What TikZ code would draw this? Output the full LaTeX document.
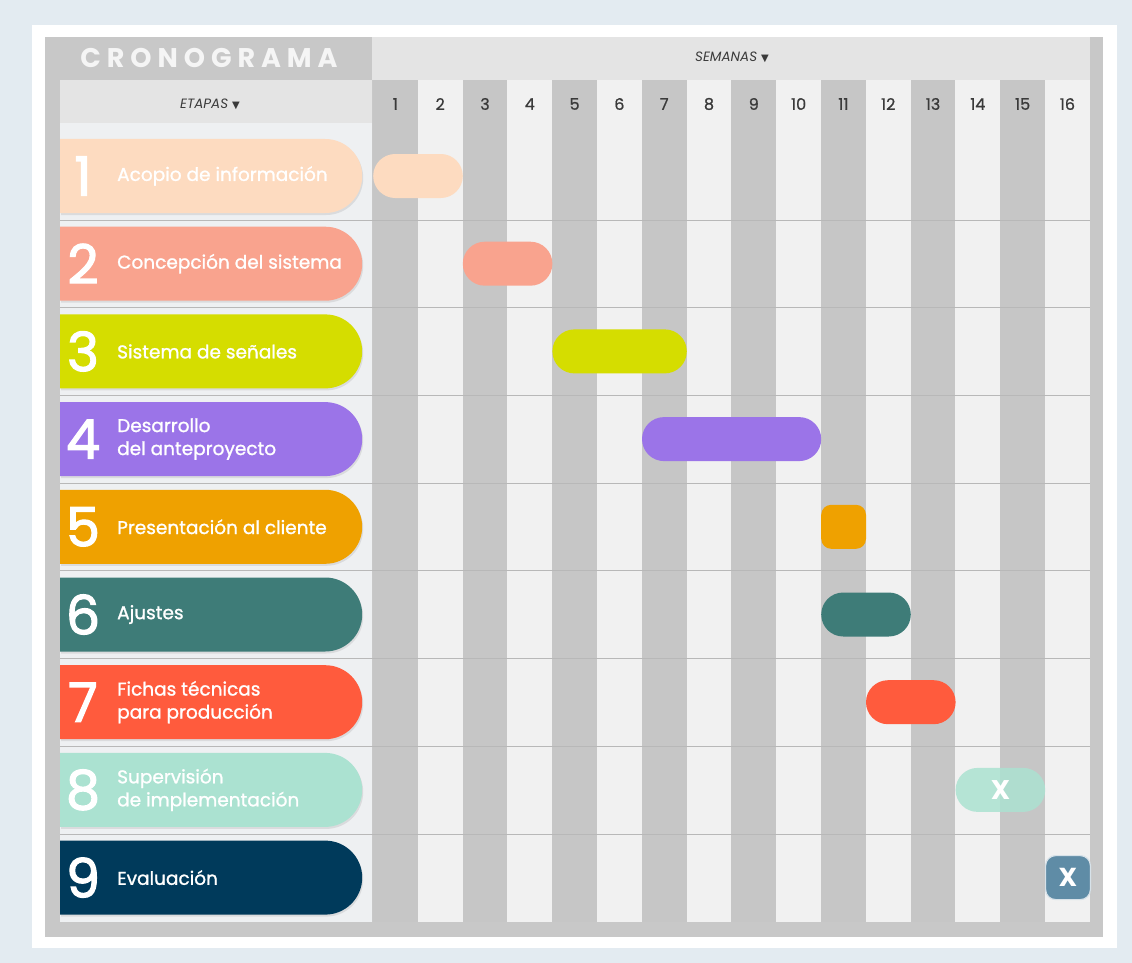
\documentclass[tikz,border=0pt]{standalone}
\usepackage{fontspec}
\setmainfont{Poppins}
\newfontfamily\arrowfont{DejaVu Sans}
\usetikzlibrary{positioning,shapes.misc,shadows}

\definecolor{bgouter}{HTML}{E3EBF1}
\definecolor{bgframe}{HTML}{C8C8C8}
\definecolor{bghead}{HTML}{E4E4E4}
\definecolor{bgleft}{HTML}{EEF0F2}
\definecolor{coldark}{HTML}{C6C6C6}
\definecolor{collight}{HTML}{F1F1F1}
\definecolor{txtdark}{HTML}{3A3A3A}
\definecolor{cpeach}{HTML}{FDDBC0}
\definecolor{csalmon}{HTML}{F9A38E}
\definecolor{clime}{HTML}{D5DD00}
\definecolor{cpurple}{HTML}{9B74E8}
\definecolor{corange}{HTML}{EFA100}
\definecolor{cteal}{HTML}{3E7C78}
\definecolor{cred}{HTML}{FF5B3D}
\definecolor{cmint}{HTML}{ABE2D1}
\definecolor{cnavy}{HTML}{003A5B}
\definecolor{csteel}{HTML}{5F8CA6}

\begin{document}
\begin{tikzpicture}[x=1pt,y=-1pt,
    stagepill/.style={rounded rectangle, rounded rectangle left arc=none,
      minimum width=302pt, minimum height=74pt, inner sep=0pt, anchor=west,
      drop shadow={opacity=0.18, shadow xshift=1pt, shadow yshift=-2pt}},
    stagenum/.style={text=white, inner sep=0pt,
      font=\fontsize{54}{54}\selectfont\addfontfeature{FakeBold=2.2}},
    stagetext/.style={text=white, anchor=west, align=left, inner sep=0pt,
      font=\fontsize{18.5}{23}\selectfont\addfontfeature{FakeBold=1.2}},
    ganttbar/.style={rounded rectangle, minimum height=44pt, inner sep=0pt, anchor=west},
    ganttbox/.style={rounded corners=10pt, minimum width=44.8pt, minimum height=44pt,
      inner sep=0pt, anchor=west, text=white, font=\bfseries\fontsize{26}{26}\selectfont},
    weeknum/.style={text=txtdark, font=\fontsize{16}{16}\selectfont\addfontfeature{FakeBold=0.8}},
    headtext/.style={text=txtdark, font=\itshape\fontsize{13.5}{13.5}\selectfont},
    rowline/.style={draw=black!28, line width=0.8pt}]

  \useasboundingbox (0,0) rectangle (1132,963);
  \fill[bgouter] (0,0) rectangle (1132,963);
  \fill[white] (32,25) rectangle (1117,948);
  \fill[bgframe] (45,37) rectangle (1103,937);
  \fill[bghead] (372,37) rectangle (1090,80);
  \fill[bghead] (60,80) rectangle (372,123);
  \fill[bgleft] (60,123) rectangle (372,922);

  % week columns
  \foreach \w in {1,...,16} {
    \pgfmathsetmacro\xa{373+44.8*(\w-1)}
    \pgfmathsetmacro\xb{\xa+44.8}
    \pgfmathparse{mod(\w,2)==1 ? "coldark" : "collight"}
    \fill[\pgfmathresult] (\xa,80) rectangle (\xb,922);
    \node[weeknum] (wk\w) at ({\xa+22.4},104) {\w};
  }

  \node[text=white!96!black, font=\bfseries\fontsize{27}{27}\selectfont\addfontfeature{LetterSpace=22}]
    (title) at (209,58) {CRONOGRAMA};
  \node[headtext] (etapas) at (210,104) {ETAPAS\ {\arrowfont\fontsize{10}{10}\selectfont▼}};
  \node[headtext] (semanas) at (732,57) {SEMANAS\ {\arrowfont\fontsize{10}{10}\selectfont▼}};

  \foreach \k in {0,...,7}
    \draw[rowline] (60,{220+87.7*\k}) -- (1090,{220+87.7*\k});

  % stages
  \foreach \n/\clr/\txt [count=\i from 0] in {
      1/cpeach/Acopio de información,
      2/csalmon/Concepción del sistema,
      3/clime/Sistema de señales,
      4/cpurple/{Desarrollo\\del anteproyecto},
      5/corange/Presentación al cliente,
      6/cteal/Ajustes,
      7/cred/{Fichas técnicas\\para producción},
      8/cmint/{Supervisión\\de implementación},
      9/cnavy/Evaluación} {
    \pgfmathsetmacro\yc{176+87.7*\i}
    \node[stagepill, fill=\clr] (stage\n) at (60,\yc) {};
    \node[stagenum] (num\n) at (83,\yc) {\n};
    \node[stagetext] (label\n) at (117,\yc) {\txt};
  }

  % gantt bars
  \foreach \n/\clr/\s/\e in {1/cpeach/1/2, 2/csalmon/3/4, 3/clime/5/7,
      4/cpurple/7/10, 6/cteal/11/12, 7/cred/12/13} {
    \pgfmathsetmacro\yc{176+87.7*(\n-1)}
    \pgfmathsetmacro\xa{373+44.8*(\s-1)}
    \pgfmathsetmacro\barw{44.8*(\e-\s+1)}
    \node[ganttbar, fill=\clr, minimum width=\barw pt] (bar\n) at (\xa,\yc) {};
  }
  \node[ganttbox, fill=corange] (bar5) at (821,526.8) {};
  \node[ganttbar, fill=cmint, fill opacity=0.85, text opacity=1, minimum width=89.6pt,
    text=white, font=\bfseries\fontsize{27}{27}\selectfont] (bar8) at (955.4,789.9) {X};
  \node[ganttbox, fill=csteel, draw=white!75!csteel, line width=1.2pt] (bar9) at (1045,877.6) {X};
\end{tikzpicture}
\end{document}
